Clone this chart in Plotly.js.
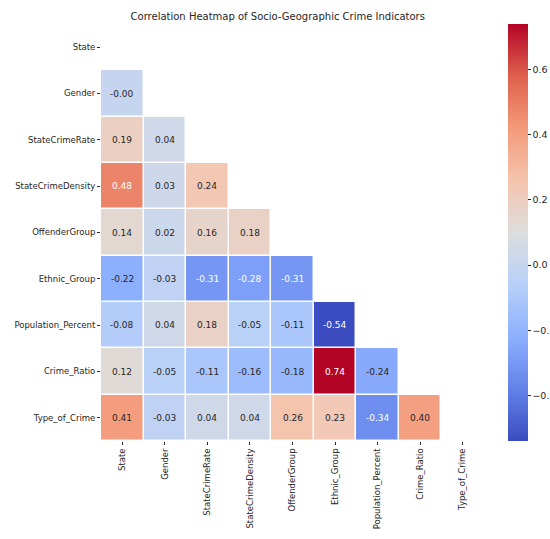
<!DOCTYPE html>
<html>
<head>
<meta charset="utf-8">
<script src="https://cdn.plot.ly/plotly-3.0.1.min.js"></script>
<style>html,body{margin:0;padding:0;background:#fff;}#chart{width:550px;height:539px;}</style>
</head>
<body>
<div id="chart"></div>
<script>
const labels = ["State","Gender","StateCrimeRate","StateCrimeDensity","OffenderGroup","Ethnic_Group","Population_Percent","Crime_Ratio","Type_of_Crime"];
// lower-triangle correlation values, row by row (row i has i values)
const rowState = [];
const rowGender = [-0.004];
const rowStateCrimeRate = [0.19, 0.04];
const rowStateCrimeDensity = [0.48, 0.03, 0.24];
const rowOffenderGroup = [0.14, 0.02, 0.16, 0.18];
const rowEthnicGroup = [-0.22, -0.03, -0.31, -0.28, -0.31];
const rowPopulationPercent = [-0.08, 0.04, 0.18, -0.05, -0.11, -0.54];
const rowCrimeRatio = [0.12, -0.05, -0.11, -0.16, -0.18, 0.74, -0.24];
const rowTypeOfCrime = [0.41, -0.03, 0.04, 0.04, 0.26, 0.23, -0.34, 0.40];
const rows = [rowState,rowGender,rowStateCrimeRate,rowStateCrimeDensity,rowOffenderGroup,rowEthnicGroup,rowPopulationPercent,rowCrimeRatio,rowTypeOfCrime];

const zmin = -0.54, zmax = 0.74;
const coolwarm = [
  [0.0,"#3b4cc0"],[0.125,"#6282ea"],[0.25,"#8db0fe"],[0.375,"#b8d0f9"],
  [0.5,"#dddddd"],[0.625,"#f5c4ad"],[0.75,"#f49a7b"],[0.875,"#de604d"],[1.0,"#b40426"]
];

const z = rows.map(r => labels.map((_, j) => j < r.length ? r[j] : null));

function hexToRgb(h){return [parseInt(h.slice(1,3),16),parseInt(h.slice(3,5),16),parseInt(h.slice(5,7),16)];}
function colorAt(v){
  let t = (v - zmin)/(zmax - zmin); t = Math.max(0, Math.min(1, t));
  for (let k=0;k<coolwarm.length-1;k++){
    const [a,ca]=coolwarm[k],[b,cb]=coolwarm[k+1];
    if (t>=a && t<=b){
      const f=(t-a)/(b-a), A=hexToRgb(ca), B=hexToRgb(cb);
      return A.map((x,i)=>x+(B[i]-x)*f);
    }
  }
  return hexToRgb(coolwarm[coolwarm.length-1][1]);
}
function lum(rgb){
  const c = rgb.map(x=>{x/=255;return x<=0.03928?x/12.92:Math.pow((x+0.055)/1.055,2.4);});
  return 0.2126*c[0]+0.7152*c[1]+0.0722*c[2];
}

const annotations = [];
rows.forEach((r,i)=>r.forEach((v,j)=>{
  annotations.push({
    x: labels[j], y: labels[i], xref:"x", yref:"y",
    text: v.toFixed(2), showarrow:false,
    font:{family:"DejaVu Sans", size:9, color: lum(colorAt(v))>0.408 ? "#262626" : "#ffffff"}
  });
}));

const trace = {
  type:"heatmap", x:labels, y:labels, z:z,
  zmin:zmin, zmax:zmax, colorscale:coolwarm,
  xgap:1.5, ygap:1.5, hoverongaps:false,
  colorbar:{
    x:1.063, xanchor:"left", xref:"paper", xpad:0, ypad:0, y:0.5, yanchor:"middle", len:1, lenmode:"fraction",
    thickness:20, thicknessmode:"pixels", outlinewidth:0,
    tickvals:[-0.4,-0.2,0,0.2,0.4,0.6], ticktext:["\u22120.4","\u22120.2","0.0","0.2","0.4","0.6"],
    ticks:"outside", ticklen:3, tickcolor:"#262626",
    tickfont:{family:"DejaVu Sans", size:9.5, color:"#262626"}
  }
};

const layout = {
  width:550, height:539,
  margin:{l:101, r:66, t:24, b:98, autoexpand:false},
  paper_bgcolor:"#ffffff", plot_bgcolor:"#ffffff",
  title:{text:"Correlation Heatmap of Socio-Geographic Crime Indicators", x:0.505, xref:"container", y:0.97, yref:"container", yanchor:"middle",
    font:{family:"DejaVu Sans", size:10, color:"#262626"}},
  xaxis:{type:"category", categoryorder:"array", categoryarray:labels, tickangle:-90, ticks:"outside", ticklen:3, tickcolor:"#262626",
    showgrid:false, zeroline:false, showline:false, tickfont:{family:"DejaVu Sans", size:8.5, color:"#262626"}},
  yaxis:{type:"category", categoryorder:"array", categoryarray:labels, autorange:"reversed", ticks:"outside", ticklen:3, tickcolor:"#262626",
    showgrid:false, zeroline:false, showline:false, tickfont:{family:"DejaVu Sans", size:8.5, color:"#262626"}},
  annotations: annotations
};

Plotly.newPlot("chart",[trace],layout,{displayModeBar:false, staticPlot:true});
</script>
</body>
</html>
